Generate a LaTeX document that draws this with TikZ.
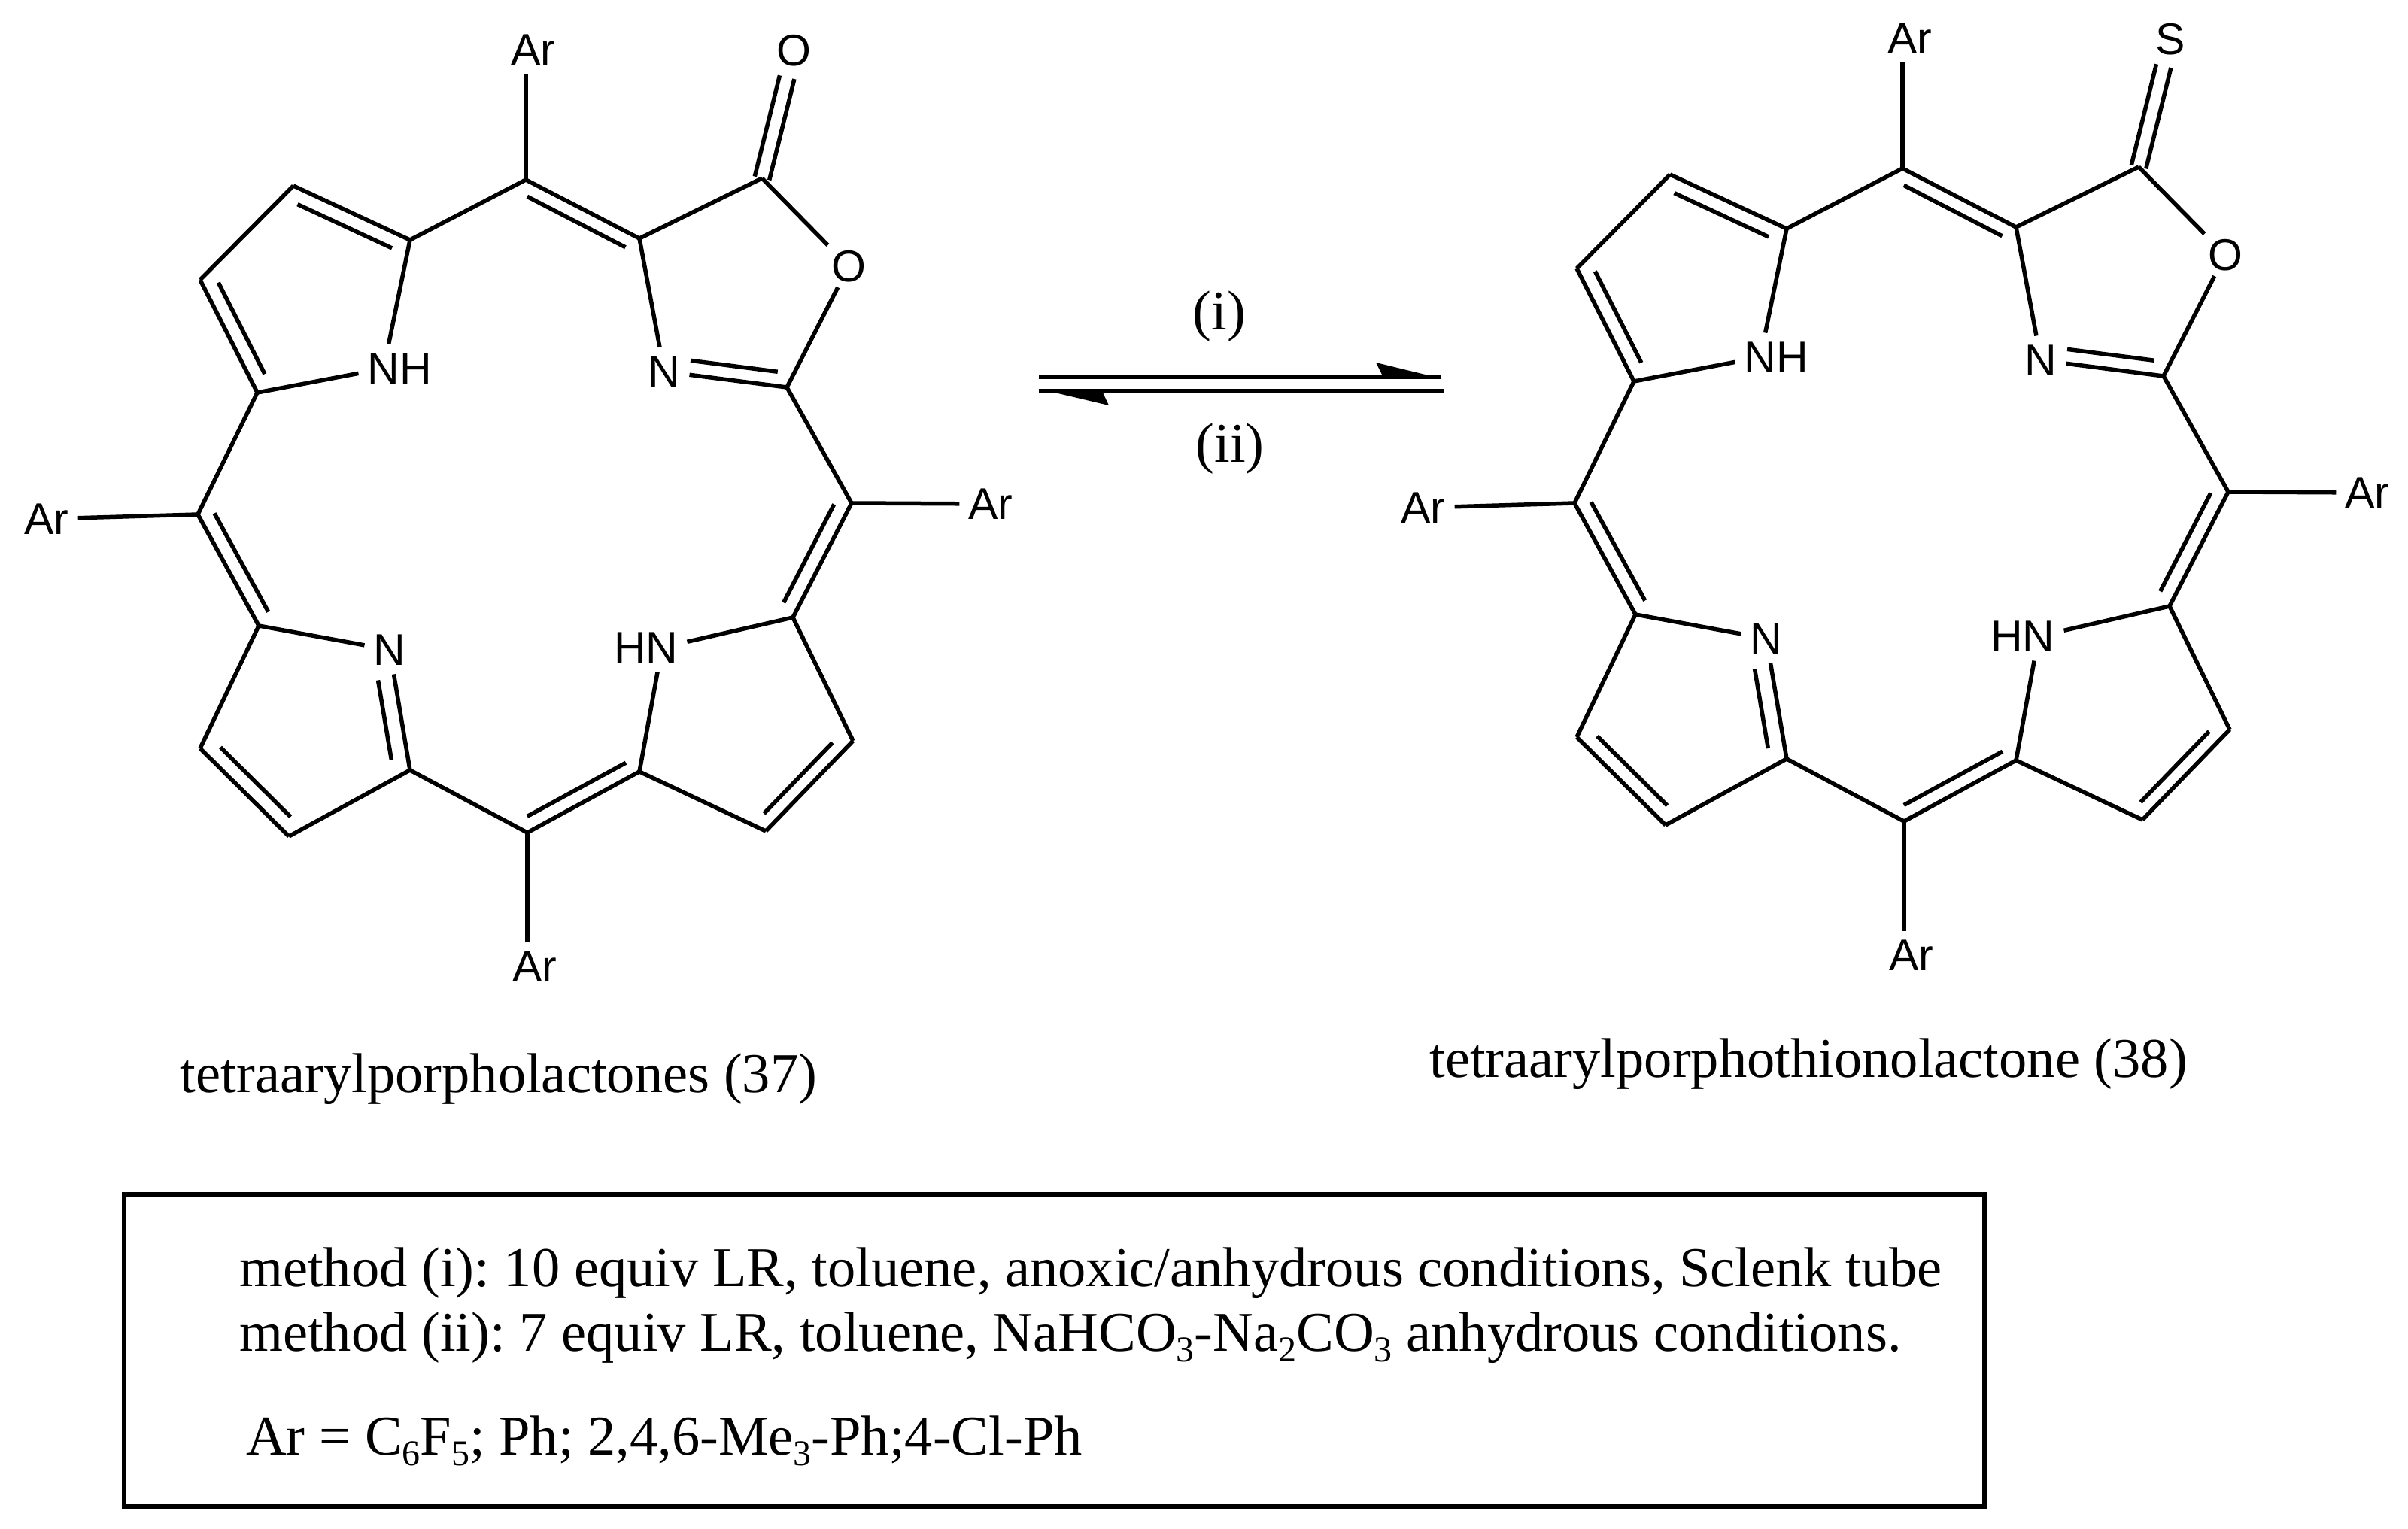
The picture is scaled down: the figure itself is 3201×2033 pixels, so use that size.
\documentclass[tikz,border=0pt]{standalone}
\usepackage{fontspec}
\setmainfont{Liberation Serif}
\newfontfamily\atomfont{Liberation Sans}
\usetikzlibrary{calc}
\newcommand{\subnum}[1]{\raisebox{-14pt}{\fontsize{48}{48}\selectfont #1}}
\newcommand{\dbl}[5]{\draw[bond] ($(#1)!#3!(#2)!#5!-90:(#2)$) -- ($(#1)!#4!(#2)!#5!-90:(#2)$);}
\newcommand{\porph}[1]{%
  \coordinate (mT) at (699,239); \coordinate (CO) at (1013,237);
  \coordinate (C2) at (1046,515); \coordinate (a1) at (850,317);
  \coordinate (a2) at (545,319); \coordinate (b1) at (390,247);
  \coordinate (b2) at (266,372); \coordinate (a3) at (342,522);
  \coordinate (mL) at (263,684); \coordinate (a4) at (344,832);
  \coordinate (a5) at (545,1024); \coordinate (b3) at (266,995);
  \coordinate (b4) at (384,1112); \coordinate (mB) at (701,1107);
  \coordinate (a6) at (850,1026); \coordinate (b5) at (1018,1105);
  \coordinate (b6) at (1134,985); \coordinate (a7) at (1054,821);
  \coordinate (mR) at (1132,669);
  \node[atom] (ArT) at (699,66) {A\rlap{r}};
  \node[atom] (ArL) at (62,690) {Ar};
  \node[atom] (ArB) at (701,1285) {A\rlap{r}};
  \node[atom] (ArR) at (1317,670) {Ar};
  \node[atom] (X) at (1055,67) {#1};
  \node[atom,inner sep=7pt] (Or) at (1128,354) {O};
  \node[atom] (Nr) at (883,494) {N};
  \node[atom] (NH) at (510,490) {N\rlap{H}};
  \node[atom] (Nl) at (518,864) {N};
  \node[atom] (HN) at (880,861) {\llap{H}N};
  \foreach \p/\q in {mT/ArT,mT/a2,a2/b1,b1/b2,b2/a3,a3/NH,a2/NH,a3/mL,mL/ArL,mL/a4,
    a4/Nl,Nl/a5,a4/b3,b3/b4,b4/a5,a5/mB,mB/ArB,mB/a6,a6/b5,b5/b6,b6/a7,a7/HN,a6/HN,
    a7/mR,mR/ArR,mR/C2,C2/Nr,Nr/a1,a1/mT,a1/CO,CO/Or,Or/C2}
    \draw[bond] (\p) -- (\q);
  \dbl{b1}{a2}{.09}{.90}{20pt}
  \dbl{a3}{b2}{.105}{.915}{20pt}
  \dbl{mT}{a1}{.07}{.935}{19pt}
  \dbl{C2}{Nr}{.09}{.80}{19pt}
  \dbl{mR}{a7}{.07}{.93}{20pt}
  \dbl{b6}{b5}{.125}{.91}{18pt}
  \dbl{a6}{mB}{.06}{.94}{19pt}
  \dbl{Nl}{a5}{.23}{.89}{22pt}
  \dbl{b4}{b3}{.10}{.89}{20pt}
  \dbl{a4}{mL}{.06}{.945}{20pt}
  \draw[bond] ($(CO)!0!(X)!10pt!90:(X)$) -- ($(CO)!.79!(X)!10pt!90:(X)$);
  \draw[bond] ($(CO)!0!(X)!10pt!-90:(X)$) -- ($(CO)!.79!(X)!10pt!-90:(X)$);
}
\tikzset{
  bond/.style={line width=5.5pt,line cap=butt,line join=round,black},
  atom/.style={font=\atomfont\fontsize{59}{59}\selectfont,inner sep=12pt,text=black},
  txt/.style={font=\fontsize{74.5}{80}\selectfont\frenchspacing,inner sep=0pt,text=black},
  arrowline/.style={line width=6pt,black},
  arrowhead/.style={fill=black,draw=none},
  framebox/.style={draw=black,line width=6pt,inner sep=0pt}
}
\begin{document}
\begin{tikzpicture}[x=1pt,y=-1pt]
  \useasboundingbox (0,0) rectangle (3201,2033);
  \begin{scope}[name prefix=L-]
    \porph{O}
  \end{scope}
  \begin{scope}[shift={(1830,-15)},name prefix=R-]
    \porph{S}
  \end{scope}
  % equilibrium arrows
  \coordinate (fwA) at (1381,500.5); \coordinate (fwB) at (1915,500.5);
  \coordinate (bkA) at (1919,520); \coordinate (bkB) at (1381,520);
  \draw[arrowline] (fwA) -- (fwB);
  \draw[arrowline] (bkA) -- (bkB);
  \coordinate (fwBarb) at (1829,482); \coordinate (fwNotch) at (1837,498); \coordinate (fwTip) at (1915,503);
  \coordinate (bkBarb) at (1474,539); \coordinate (bkNotch) at (1466,522); \coordinate (bkTip) at (1381,517);
  \fill[arrowhead] (fwBarb) -- (fwNotch) -- (fwTip) -- cycle;
  \fill[arrowhead] (bkBarb) -- (bkNotch) -- (bkTip) -- cycle;
  \node[txt] (ci) at (1621,421) {(i)};
  \node[txt] (cii) at (1635,597) {(ii)};
  \node[txt,anchor=base] (capL) at (663,1452) {tetraarylporpholactones (37)};
  \node[txt,anchor=base] (capR) at (2404,1432) {tetraarylporphothionolactone (38)};
  \coordinate (boxNW) at (165,1588); \coordinate (boxSE) at (2638,2003);
  \draw[framebox] (boxNW) rectangle (boxSE);
  \node[txt,anchor=base west] (m1) at (318,1710) {method (i): 10 equiv LR, toluene, anoxic/anhydrous conditions, Sclenk tube};
  \node[txt,anchor=base west] (m2) at (318,1796) {method (ii): 7 equiv LR, toluene, NaHCO\subnum{3}-Na\subnum{2}CO\subnum{3} anhydrous conditions.};
  \node[txt,anchor=base west] (m3) at (327,1934) {Ar = C\subnum{6}F\subnum{5}; Ph; 2,4,6-Me\subnum{3}-Ph;4-Cl-Ph};
\end{tikzpicture}
\end{document}
